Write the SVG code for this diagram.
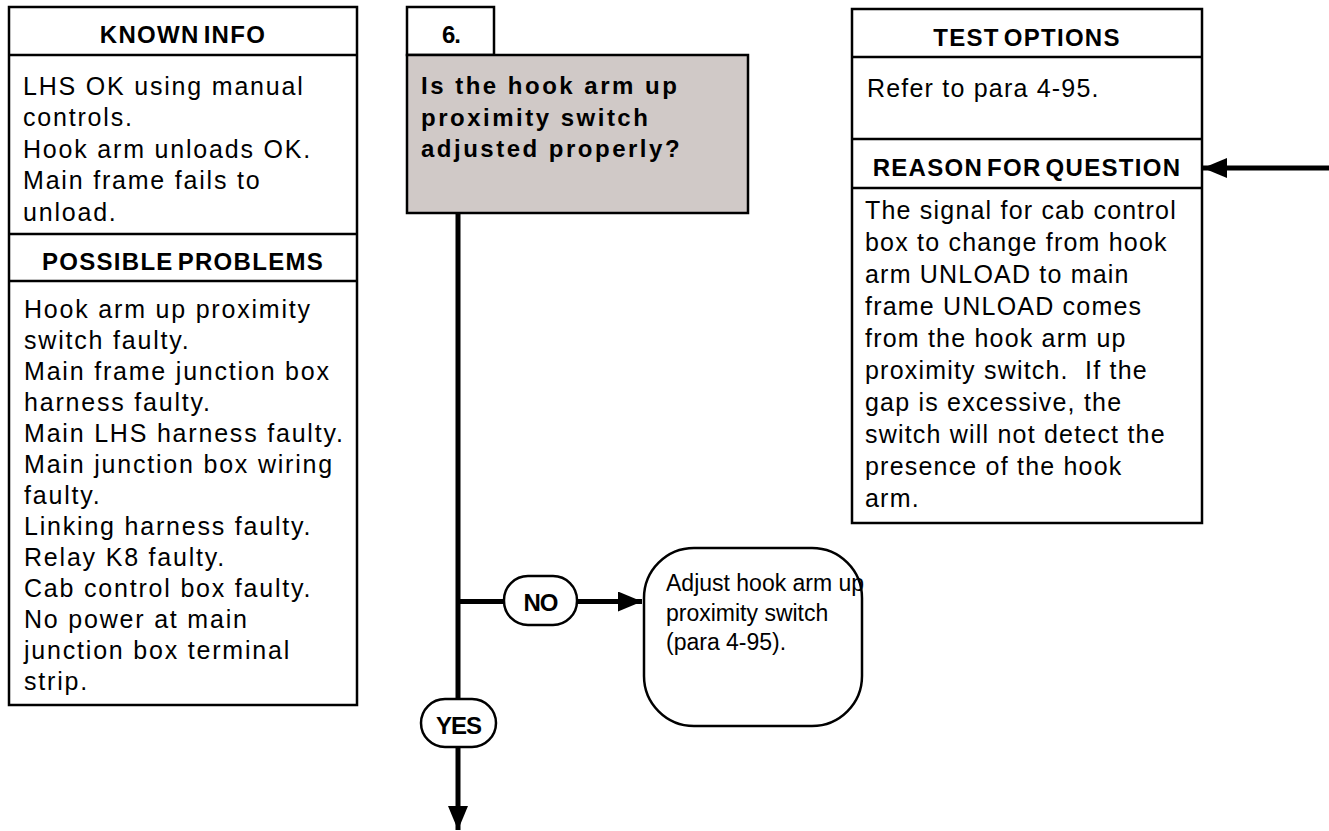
<svg xmlns="http://www.w3.org/2000/svg" width="1329" height="831" viewBox="0 0 1329 831">
<style>
.box{fill:#fff;stroke:#000;stroke-width:2.5}
.div{stroke:#000;stroke-width:2.5}
.q{fill:#d0c9c7;stroke:#000;stroke-width:2.5}
.h{font-family:"Liberation Sans",Arial,sans-serif;font-weight:bold;font-size:24px;letter-spacing:1.3px;word-spacing:-4px;text-anchor:middle}
.t{font-family:"Liberation Sans",Arial,sans-serif;font-size:25px;letter-spacing:1.8px}
.tr{font-family:"Liberation Sans",Arial,sans-serif;font-size:25px;letter-spacing:1.2px}
.ta{font-family:"Liberation Sans",Arial,sans-serif;font-size:23px;letter-spacing:0px}
.qt{font-family:"Liberation Sans",Arial,sans-serif;font-weight:bold;font-size:24px;letter-spacing:2.5px}
.lb{font-family:"Liberation Sans",Arial,sans-serif;font-weight:bold;font-size:24px;text-anchor:middle;letter-spacing:-1px}
.pill{fill:#fff;stroke:#000;stroke-width:2.5}
.c{stroke:#000;stroke-width:5;fill:none}
</style>
<defs>
<marker id="ah" viewBox="0 0 24 20" refX="24" refY="10" markerWidth="24" markerHeight="20" markerUnits="userSpaceOnUse" orient="auto">
<path d="M0,0 L24,10 L0,20 Z" fill="#000"/>
</marker>
</defs>

<g id="connectors">
<line class="c" x1="458" y1="213" x2="458" y2="699"/>
<line class="c" x1="458" y1="601.5" x2="504" y2="601.5"/>
<line class="c" x1="577" y1="601.5" x2="642" y2="601.5" marker-end="url(#ah)"/>
<line class="c" x1="458" y1="746" x2="458" y2="830" marker-end="url(#ah)"/>
<line class="c" x1="1329" y1="168" x2="1203" y2="168" marker-end="url(#ah)"/>
</g>

<g id="known-info">
<rect class="box" x="9" y="7" width="348" height="698"/>
<line class="div" x1="9" y1="55" x2="357" y2="55"/>
<line class="div" x1="9" y1="234" x2="357" y2="234"/>
<line class="div" x1="9" y1="281" x2="357" y2="281"/>
<text class="h" x="183" y="43">KNOWN INFO</text>
<text class="t">
<tspan x="23" y="94.5">LHS OK using manual</tspan>
<tspan x="23" y="126">controls.</tspan>
<tspan x="23" y="157.5">Hook arm unloads OK.</tspan>
<tspan x="23" y="189">Main frame fails to</tspan>
<tspan x="23" y="220.5">unload.</tspan>
</text>
<text class="h" x="183" y="270">POSSIBLE PROBLEMS</text>
<text class="t">
<tspan x="24" y="318">Hook arm up proximity</tspan>
<tspan x="24" y="349">switch faulty.</tspan>
<tspan x="24" y="380">Main frame junction box</tspan>
<tspan x="24" y="411">harness faulty.</tspan>
<tspan x="24" y="442">Main LHS harness faulty.</tspan>
<tspan x="24" y="473">Main junction box wiring</tspan>
<tspan x="24" y="504">faulty.</tspan>
<tspan x="24" y="535">Linking harness faulty.</tspan>
<tspan x="24" y="566">Relay K8 faulty.</tspan>
<tspan x="24" y="597">Cab control box faulty.</tspan>
<tspan x="24" y="628">No power at main</tspan>
<tspan x="24" y="659">junction box terminal</tspan>
<tspan x="24" y="690">strip.</tspan>
</text>
</g>

<g id="step-number">
<rect class="box" x="407" y="7" width="87" height="48"/>
<text class="lb" x="451" y="43">6.</text>
</g>

<g id="question">
<rect class="q" x="407" y="55" width="341" height="158"/>
<text class="qt">
<tspan x="421" y="94">Is the hook arm up</tspan>
<tspan x="421" y="125.5">proximity switch</tspan>
<tspan x="421" y="157">adjusted properly?</tspan>
</text>
</g>

<g id="test-options">
<rect class="box" x="852" y="9" width="350" height="514"/>
<line class="div" x1="852" y1="57" x2="1202" y2="57"/>
<line class="div" x1="852" y1="139" x2="1202" y2="139"/>
<line class="div" x1="852" y1="188" x2="1202" y2="188"/>
<text class="h" x="1027" y="46">TEST OPTIONS</text>
<text class="tr" x="867" y="97">Refer to para 4-95.</text>
<text class="h" x="1027" y="176">REASON FOR QUESTION</text>
<text class="tr">
<tspan x="865" y="219">The signal for cab control</tspan>
<tspan x="865" y="251">box to change from hook</tspan>
<tspan x="865" y="283">arm UNLOAD to main</tspan>
<tspan x="865" y="315">frame UNLOAD comes</tspan>
<tspan x="865" y="347">from the hook arm up</tspan>
<tspan x="865" y="379">proximity switch.&#160; If the</tspan>
<tspan x="865" y="411">gap is excessive, the</tspan>
<tspan x="865" y="443">switch will not detect the</tspan>
<tspan x="865" y="475">presence of the hook</tspan>
<tspan x="865" y="507">arm.</tspan>
</text>
</g>

<g id="no-label">
<rect class="pill" x="504" y="576" width="73" height="49" rx="24" ry="24"/>
<text class="lb" x="540.5" y="611">NO</text>
</g>

<g id="yes-label">
<rect class="pill" x="421" y="699" width="75" height="48" rx="24" ry="24"/>
<text class="lb" x="458.5" y="734">YES</text>
</g>

<g id="adjust">
<rect class="box" x="644" y="548" width="218" height="178" rx="50" ry="50"/>
<text class="ta">
<tspan x="666" y="591">Adjust hook arm up</tspan>
<tspan x="666" y="620.5">proximity switch</tspan>
<tspan x="666" y="650">(para 4-95).</tspan>
</text>
</g>
</svg>
